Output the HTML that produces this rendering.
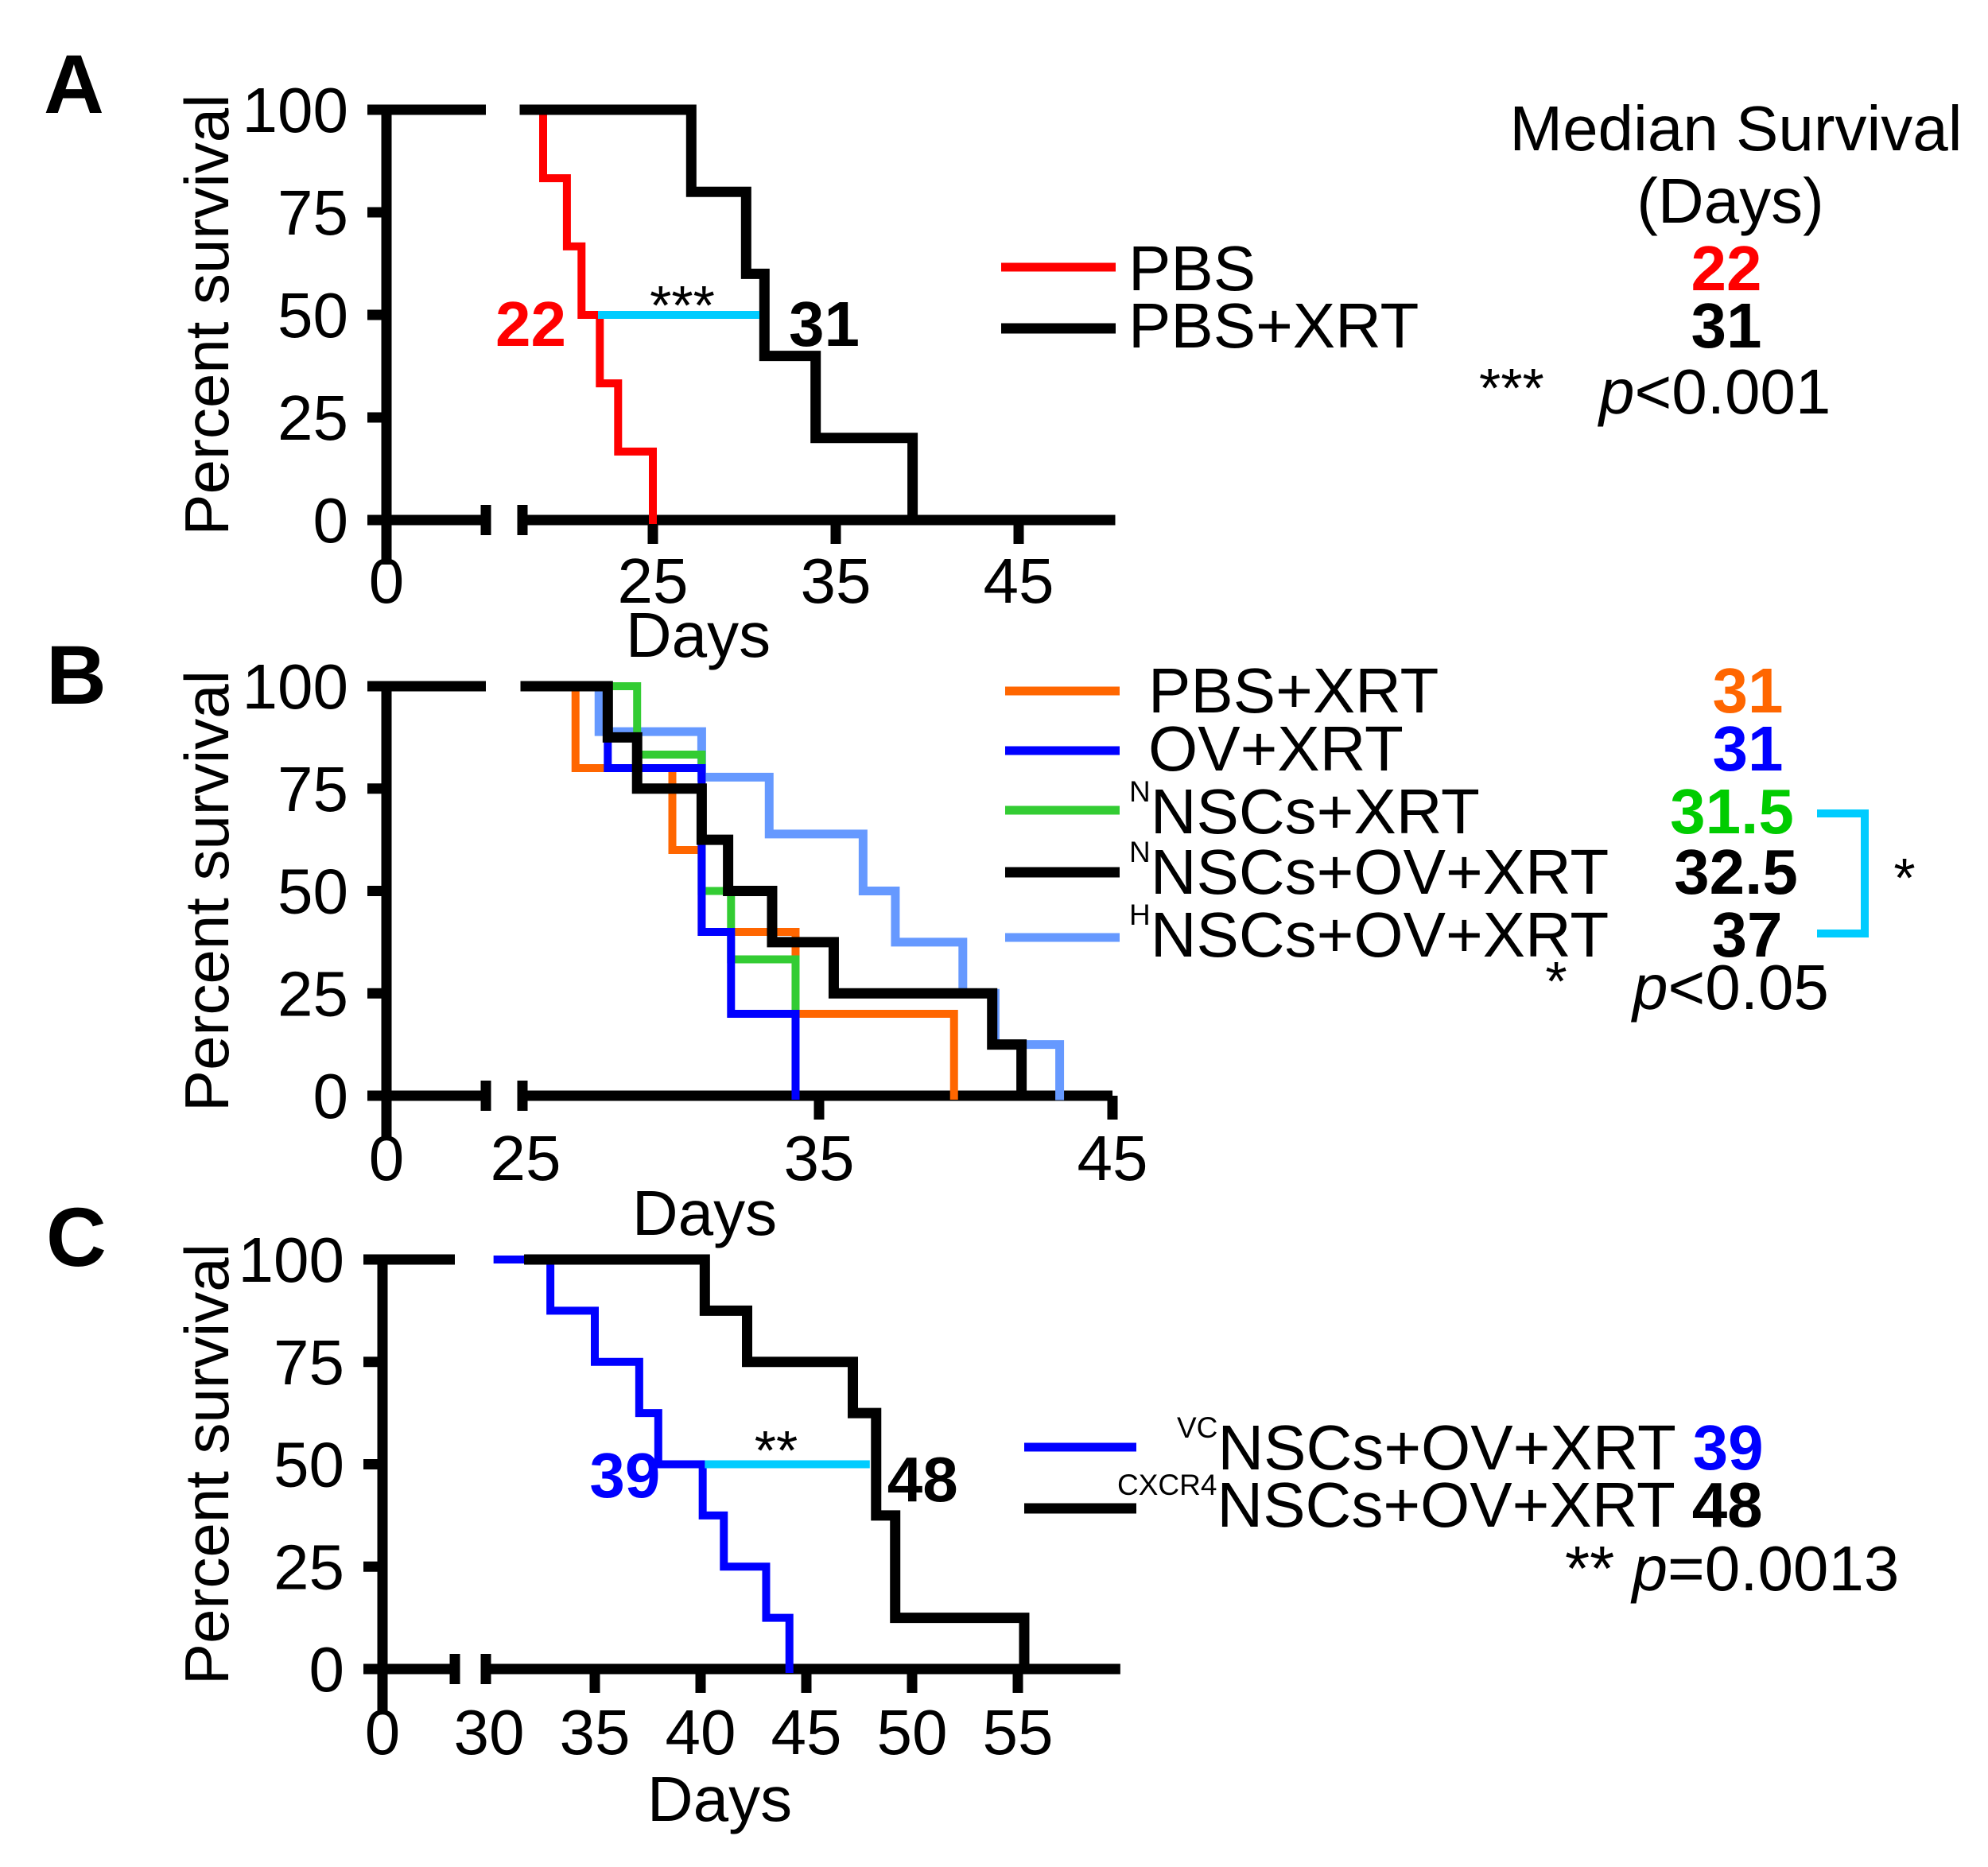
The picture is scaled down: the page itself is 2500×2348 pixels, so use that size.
<!DOCTYPE html>
<html><head><meta charset="utf-8"><style>
html,body{margin:0;padding:0;background:#fff;}
svg{display:block;font-family:"Liberation Sans",Arial,sans-serif;}
</style></head><body>
<svg id="fig" width="2500" height="2348" viewBox="0 0 2500 2348" xmlns="http://www.w3.org/2000/svg">
<g id="gA"></g>
<g id="gB"></g>
<g id="gC"></g>

<!-- Panel letters -->
<text x="55" y="142" font-size="105" font-weight="bold">A</text>
<text x="58" y="885" font-size="105" font-weight="bold">B</text>
<text x="58" y="1592" font-size="105" font-weight="bold">C</text>

<!-- Panel A right side -->
<g font-size="80">
<text x="2183" y="189" text-anchor="middle">Median Survival</text>
<text x="2176" y="280" text-anchor="middle">(Days)</text>
<line x1="1259" y1="336" x2="1403" y2="336" stroke="#ff0000" stroke-width="11"/>
<text x="1419" y="365">PBS</text>
<line x1="1259" y1="413" x2="1403" y2="413" stroke="#000" stroke-width="13"/>
<text x="1419" y="437">PBS+XRT</text>
<text x="2171" y="365" text-anchor="middle" font-weight="bold" fill="#ff0000">22</text>
<text x="2171" y="437" text-anchor="middle" font-weight="bold">31</text>
<text x="1860" y="512" font-size="70">***</text>
<text x="2011" y="520"><tspan font-style="italic">p</tspan>&lt;0.001</text>
</g>

<!-- Panel B right side -->
<g font-size="80">
<line x1="1264" y1="869" x2="1408" y2="869" stroke="#ff6600" stroke-width="11"/>
<text x="1444" y="896">PBS+XRT</text>
<line x1="1264" y1="944" x2="1408" y2="944" stroke="#0000ff" stroke-width="11"/>
<text x="1444" y="969">OV+XRT</text>
<line x1="1264" y1="1019" x2="1408" y2="1019" stroke="#33cc33" stroke-width="11"/>
<text x="1420" y="1048"><tspan font-size="37" dy="-40">N</tspan><tspan dy="40">NSCs+XRT</tspan></text>
<line x1="1264" y1="1097" x2="1408" y2="1097" stroke="#000" stroke-width="13"/>
<text x="1420" y="1124"><tspan font-size="37" dy="-40">N</tspan><tspan dy="40">NSCs+OV+XRT</tspan></text>
<line x1="1264" y1="1179" x2="1408" y2="1179" stroke="#6699ff" stroke-width="11"/>
<text x="1420" y="1203"><tspan font-size="37" dy="-40">H</tspan><tspan dy="40">NSCs+OV+XRT</tspan></text>
<text x="2198" y="896" text-anchor="middle" font-weight="bold" fill="#ff6600">31</text>
<text x="2198" y="969" text-anchor="middle" font-weight="bold" fill="#0000ff">31</text>
<text x="2178" y="1048" text-anchor="middle" font-weight="bold" fill="#00cc00">31.5</text>
<text x="2183" y="1124" text-anchor="middle" font-weight="bold">32.5</text>
<text x="2197" y="1203" text-anchor="middle" font-weight="bold">37</text>
<path d="M2285 1023 H2345 V1174 H2285" fill="none" stroke="#00ccff" stroke-width="10"/>
<text x="2395" y="1128" font-size="70" text-anchor="middle">*</text>
<text x="1957" y="1258" font-size="70" text-anchor="middle">*</text>
<text x="2053" y="1269"><tspan font-style="italic">p</tspan>&lt;0.05</text>
</g>

<!-- Panel C right side -->
<g font-size="80">
<line x1="1288" y1="1820" x2="1429" y2="1820" stroke="#0000ff" stroke-width="11"/>
<text x="1480" y="1848"><tspan font-size="37" dy="-40">VC</tspan><tspan dy="40">NSCs+OV+XRT </tspan><tspan font-weight="bold" fill="#0000ff">39</tspan></text>
<line x1="1288" y1="1897" x2="1429" y2="1897" stroke="#000" stroke-width="13"/>
<text x="1405" y="1920"><tspan font-size="37" dy="-40">CXCR4</tspan><tspan dy="40">NSCs+OV+XRT </tspan><tspan font-weight="bold">48</tspan></text>
<text x="1968" y="2000">** <tspan font-style="italic">p</tspan>=0.0013</text>
</g>

<script>
// ---------- Panel A data ----------
const aPbsDays = [19, 20.3, 21.1, 22.1, 23.1, 25];
const aPbsSurv = [83.3, 66.7, 50, 33.3, 16.7, 0];
const aXrtDays = [27.1, 30.1, 31.1, 33.9, 39.2];
const aXrtSurv = [80, 60, 40, 20, 0];
const aTicks = [25, 35, 45];
const yTicks = [0, 25, 50, 75, 100];
// ---------- Panel B data ----------
const bPbsDays = [26.7, 30, 31, 34.2, 39.6];
const bPbsSurv = [80, 60, 40, 20, 0];
const bOvDays = [27.8, 31, 32, 34.2];
const bOvSurv = [80, 40, 20, 0];
const bNnscDays = [28.8, 31, 32, 34.2];
const bNnscSurv = [83.3, 50, 33.3, 0];
const bNnscOvDays = [27.8, 28.8, 31, 31.9, 33.4, 35.5, 40.9, 41.9];
const bNnscOvSurv = [87.5, 75, 62.5, 50, 37.5, 25, 12.5, 0];
const bHnscOvDays = [27.5, 31, 33.3, 36.5, 37.6, 39.9, 41, 43.2];
const bHnscOvSurv = [88.9, 77.8, 63.9, 50, 37.5, 25, 12.5, 0];
const bTicks = [35, 45];
// ---------- Panel C data ----------
const cVcDays = [32.9, 35, 37.1, 38, 40.1, 41.1, 43.1, 44.2];
const cVcSurv = [87.5, 75, 62.5, 50, 37.5, 25, 12.5, 0];
const cCxDays = [40.2, 42.2, 47.2, 48.3, 49.2, 55.3];
const cCxSurv = [87.5, 75, 62.5, 37.5, 12.5, 0];
const cTicks = [35, 40, 45, 50, 55];
const medians = {a: [22, 31], c: [39, 48]};

const NS = 'http://www.w3.org/2000/svg';
function mk(parent, tag, attrs) {
  const e = document.createElementNS(NS, tag);
  for (const k in attrs) e.setAttribute(k, attrs[k]);
  parent.appendChild(e);
  return e;
}
const SW = 13;

function panel(g, P) {
  const y = v => P.y0 - (v / 100) * (P.y0 - P.y100);
  const x = d => P.xRef + (d - P.dRef) * P.ppd;
  // axes
  const ax = mk(g, 'path', {d: `M${P.x0} ${y(0)+56} V${y(100)} M${P.x0-24} ${y(0)} H${P.brk1} M${P.brk1} ${y(0)-19} V${y(0)+19} M${P.brk2} ${y(0)-19} V${y(0)+19} M${P.brk2} ${y(0)} H${P.xEnd}`, stroke: '#000', 'stroke-width': SW, fill: 'none'});
  
  
  // y ticks
  yTicks.forEach(v => {
    const t = mk(g, 'line', {x1: P.x0 - 24, x2: P.x0, y1: y(v), y2: y(v), stroke: '#000', 'stroke-width': SW});
    
    
    const l = mk(g, 'text', {x: P.x0 - 48, y: y(v) + 28, 'font-size': 80, 'text-anchor': 'end'});
    
    
    l.textContent = v;
  });
  // x ticks
  const l0 = mk(g, 'text', {x: P.x0, y: P.tickY, 'font-size': 80, 'text-anchor': 'middle'});
  
  
  l0.textContent = '0';
  if (P.brkLabel != null) {
    const lb = mk(g, 'text', {x: P.brk2 + 4, y: P.tickY, 'font-size': 80, 'text-anchor': 'middle'});
    
    
    lb.textContent = P.brkLabel;
  }
  P.ticks.forEach(d => {
    const t = mk(g, 'line', {x1: x(d), x2: x(d), y1: y(0), y2: y(0) + 30, stroke: '#000', 'stroke-width': SW});
    
    
    const l = mk(g, 'text', {x: x(d), y: P.tickY, 'font-size': 80, 'text-anchor': 'middle'});
    
    
    l.textContent = d;
  });
  const xt = mk(g, 'text', {x: P.daysX, y: P.daysY, 'font-size': 80, 'text-anchor': 'middle'});
  
  
  xt.textContent = 'Days';
  const yt = mk(g, 'text', {x: 0, y: 0, 'font-size': 78, 'text-anchor': 'middle', transform: `translate(287 ${(y(0)+y(100))/2}) rotate(-90)`});
  
  
  yt.textContent = 'Percent survival';
  // day-0 stub (top) of first segment
  const st = mk(g, 'line', {x1: P.x0 - 24, x2: P.brk1, y1: y(100), y2: y(100), stroke: '#000', 'stroke-width': SW});
  
  
  return {x, y};
}

function curve(g, S, start, days, surv, color, w, name, end) {
  let d = `M${S.x(start)} ${S.y(100)}`;
  for (let i = 0; i < days.length; i++) d += ` H${S.x(days[i])} V${S.y(surv[i])}`;
  if (end != null) d += ` H${S.x(end)}`;
  const p = mk(g, 'path', {d, fill: 'none', stroke: color, 'stroke-width': w, 'stroke-linejoin': 'miter', 'stroke-linecap': 'square'});
  
  
  return p;
}
function label(g, x, y, txt, color, name, anchor, size, bold) {
  const t = mk(g, 'text', {x, y, fill: color, 'font-size': size || 80, 'font-weight': bold === false ? 'normal' : 'bold', 'text-anchor': anchor || 'start'});
  
  
  t.textContent = txt;
}

// Panel A
const gA = document.getElementById('gA');
const SA = panel(gA, {x0: 486, y0: 654, y100: 138, xRef: 821, dRef: 25, ppd: 23, brk1: 611, brk2: 657, xEnd: 1397, ticks: aTicks, tickY: 758, daysX: 878, daysY: 826, brkLabel: null});
curve(gA, SA, 19, aPbsDays, aPbsSurv, '#ff0000', 10, 'curve-pbs');
curve(gA, SA, 18, aXrtDays, aXrtSurv, '#000', SW, 'curve-pbs-xrt', 50);
const cyA = mk(gA, 'line', {x1: SA.x(medians.a[0]), x2: SA.x(medians.a[1]) - 4, y1: SA.y(50), y2: SA.y(50), stroke: '#00ccff', 'stroke-width': 10});


label(gA, SA.x(medians.a[0]) - 40, 435, String(medians.a[0]), '#ff0000', 'median-label-pbs', 'end');
label(gA, SA.x(medians.a[1]) + 33, 435, String(medians.a[1]), '#000', 'median-label-pbs-xrt', 'start');
label(gA, 858, 408, '***', '#000', 'stars-a', 'middle', 70, false);

// Panel B
const gB = document.getElementById('gB');
const SB = panel(gB, {x0: 486, y0: 1378, y100: 863, xRef: 661, dRef: 25, ppd: 36.9, brk1: 611, brk2: 657, xEnd: 1399, ticks: bTicks, tickY: 1484, daysX: 886, daysY: 1553, brkLabel: 25});
curve(gB, SB, 25, bHnscOvDays, bHnscOvSurv, '#6699ff', 11, 'curve-hnsc-ov-xrt');
curve(gB, SB, 25, bPbsDays, bPbsSurv, '#ff6600', 10, 'curve-b-pbs-xrt');
curve(gB, SB, 25, bNnscDays, bNnscSurv, '#33cc33', 10, 'curve-nnsc-xrt');
curve(gB, SB, 25, bOvDays, bOvSurv, '#0000ff', 10, 'curve-ov-xrt');
curve(gB, SB, 25, bNnscOvDays, bNnscOvSurv, '#000', SW, 'curve-nnsc-ov-xrt');

// Panel C
const gC = document.getElementById('gC');
const SC = panel(gC, {x0: 481, y0: 2099, y100: 1584, xRef: 615, dRef: 30, ppd: 26.6, brk1: 572, brk2: 611, xEnd: 1395, ticks: cTicks, tickY: 2206, daysX: 905, daysY: 2290, brkLabel: 30});
curve(gC, SC, 30.4, cVcDays, cVcSurv, '#0000ff', 10, 'curve-vc-nsc');
curve(gC, SC, 31.9, cCxDays, cCxSurv, '#000', SW, 'curve-cxcr4-nsc', 59.6);
const cyC = mk(gC, 'line', {x1: SC.x(40.2), x2: SC.x(medians.c[1]), y1: SC.y(50), y2: SC.y(50), stroke: '#00ccff', 'stroke-width': 10});


label(gC, SC.x(medians.c[0]) - 24, 1883, String(medians.c[0]), '#0000ff', 'median-label-vc', 'end');
label(gC, SC.x(medians.c[1]) + 22, 1888, String(medians.c[1]), '#000', 'median-label-cxcr4', 'start');
label(gC, 976, 1848, '**', '#000', 'stars-c', 'middle', 70, false);
</script>
</svg>
</body></html>
